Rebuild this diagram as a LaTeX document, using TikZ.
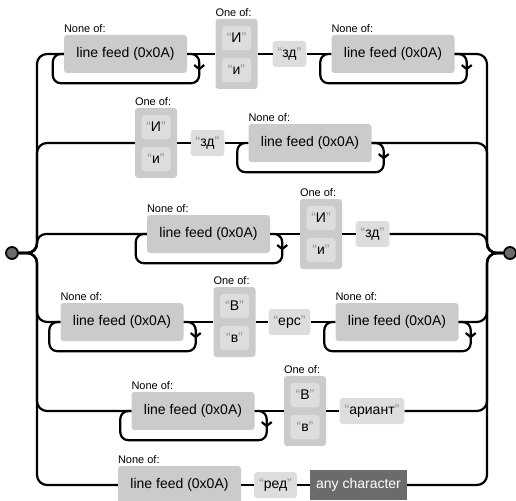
\documentclass[tikz,border=0pt]{standalone}
\usepackage{fontspec}
\setmainfont{Liberation Sans}
\usetikzlibrary{arrows.meta,decorations.markings}
\definecolor{charsetgray}{RGB}{203,203,203}
\definecolor{literalgray}{RGB}{221,221,221}
\definecolor{anchorgray}{RGB}{107,107,107}
\definecolor{quotegray}{RGB}{150,146,140}

% quoted literal text
\newcommand{\lit}[1]{\textcolor{quotegray}{“}#1\textcolor{quotegray}{”}}

% repeat loop running under a box, arrow going down on the right
\newcommand{\loopunder}[1]{%
    \draw[rail,rounded corners=8,postaction={decorate},
        decoration={markings,mark=at position 25pt with {\arrow{Straight Barb[length=4pt,width=10pt]}}}]
        (#1.east) -- ++(12,0) |- ([xshift=-11pt,yshift=-10pt]#1.south west) |- (#1.west);}

\begin{document}
\begin{tikzpicture}[x=1pt,y=-1pt,
        rail/.style={draw=black,line width=2.2pt,rounded corners=10},
        nonebox/.style={rectangle,fill=charsetgray,rounded corners=3,minimum width=123,minimum height=38,inner sep=0pt,font=\fontsize{14}{16}\selectfont},
        onebox/.style={rectangle,fill=charsetgray,rounded corners=3,minimum width=42,minimum height=70,inner sep=0pt},
        litbox/.style={rectangle,fill=literalgray,rounded corners=3,minimum height=26,inner xsep=5pt,inner ysep=0pt,font=\fontsize{14}{16}\selectfont},
        innerbox/.style={litbox,minimum width=29,minimum height=24,inner xsep=1pt},
        anybox/.style={rectangle,fill=anchorgray,text=white,minimum height=30,inner xsep=6pt,inner ysep=0pt,font=\fontsize{14}{16}\selectfont},
        caption/.style={anchor=south west,inner sep=0pt,yshift=2pt,font=\fontsize{11}{12}\selectfont},
        terminal/.style={circle,draw=black,line width=1.8pt,fill=anchorgray,minimum size=12,inner sep=0pt}]
    \useasboundingbox (0,0) rectangle (516,500);

    \node[terminal] (start) at (12,253) {};
    \node[terminal] (finish) at (510,253) {};
    \coordinate (lbus) at (37,253);
    \coordinate (rbus) at (487,253);

    % first alternative
    \node[nonebox] (r1a) at (125.5,54) {line feed (0x0A)};
    \node[caption] (r1acap) at (r1a.north west) {None of:};
    \node[onebox] (r1b) at (236.5,54) {};
    \node[caption] (r1bcap) at (r1b.north west) {One of:};
    \node[innerbox] (r1b1) at (236.5,38) {\lit{И}};
    \node[innerbox] (r1b2) at (236.5,70) {\lit{и}};
    \node[litbox] (r1c) at (289.5,54) {\lit{зд}};
    \node[nonebox] (r1d) at (393,54) {line feed (0x0A)};
    \node[caption] (r1dcap) at (r1d.north west) {None of:};

    % second alternative
    \node[onebox] (r2a) at (156,143) {};
    \node[caption] (r2acap) at (r2a.north west) {One of:};
    \node[innerbox] (r2a1) at (156,127) {\lit{И}};
    \node[innerbox] (r2a2) at (156,159) {\lit{и}};
    \node[litbox] (r2b) at (207.5,143) {\lit{зд}};
    \node[nonebox] (r2c) at (310,143) {line feed (0x0A)};
    \node[caption] (r2ccap) at (r2c.north west) {None of:};

    % third alternative
    \node[nonebox] (r3a) at (208.5,234) {line feed (0x0A)};
    \node[caption] (r3acap) at (r3a.north west) {None of:};
    \node[onebox] (r3b) at (321,234) {};
    \node[caption] (r3bcap) at (r3b.north west) {One of:};
    \node[innerbox] (r3b1) at (321,218) {\lit{И}};
    \node[innerbox] (r3b2) at (321,250) {\lit{и}};
    \node[litbox] (r3c) at (372.5,234) {\lit{зд}};

    % fourth alternative
    \node[nonebox] (r4a) at (122,322) {line feed (0x0A)};
    \node[caption] (r4acap) at (r4a.north west) {None of:};
    \node[onebox] (r4b) at (234.5,322) {};
    \node[caption] (r4bcap) at (r4b.north west) {One of:};
    \node[innerbox] (r4b1) at (234.5,306) {\lit{В}};
    \node[innerbox] (r4b2) at (234.5,338) {\lit{в}};
    \node[litbox] (r4c) at (289.5,322) {\lit{ерс}};
    \node[nonebox] (r4d) at (397,322) {line feed (0x0A)};
    \node[caption] (r4dcap) at (r4d.north west) {None of:};

    % fifth alternative
    \node[nonebox] (r5a) at (193,411) {line feed (0x0A)};
    \node[caption] (r5acap) at (r5a.north west) {None of:};
    \node[onebox] (r5b) at (305,411) {};
    \node[caption] (r5bcap) at (r5b.north west) {One of:};
    \node[innerbox] (r5b1) at (305,395) {\lit{В}};
    \node[innerbox] (r5b2) at (305,427) {\lit{в}};
    \node[litbox] (r5c) at (372,411) {\lit{ариант}};

    % sixth alternative
    \node[nonebox] (r6a) at (179.5,485) {line feed (0x0A)};
    \node[caption] (r6acap) at (r6a.north west) {None of:};
    \node[litbox] (r6b) at (275.5,485) {\lit{ред}};
    \node[anybox] (r6c) at (358.5,485) {any character};

    % rails
    \draw[rail] (start.east) -| (lbus |- r1a.west) -- (r1a.west);
    \draw[rail] (r1a.east) -- (r1b.west) (r1b.east) -- (r1c.west) (r1c.east) -- (r1d.west);
    \draw[rail] (r1d.east) -| (rbus |- finish.west) -- (finish.west);

    \draw[rail] (start.east) -| (lbus |- r2a.west) -- (r2a.west);
    \draw[rail] (r2a.east) -- (r2b.west) (r2b.east) -- (r2c.west);
    \draw[rail] (r2c.east) -| (rbus |- finish.west) -- (finish.west);

    \draw[rail,rounded corners=9] (start.east) -| (lbus |- r3a.west) -- (r3a.west);
    \draw[rail] (r3a.east) -- (r3b.west) (r3b.east) -- (r3c.west);
    \draw[rail,rounded corners=9] (r3c.east) -| (rbus |- finish.west) -- (finish.west);

    \draw[rail] (start.east) -| (lbus |- r4a.west) -- (r4a.west);
    \draw[rail] (r4a.east) -- (r4b.west) (r4b.east) -- (r4c.west) (r4c.east) -- (r4d.west);
    \draw[rail] (r4d.east) -| (rbus |- finish.west) -- (finish.west);

    \draw[rail] (start.east) -| (lbus |- r5a.west) -- (r5a.west);
    \draw[rail] (r5a.east) -- (r5b.west) (r5b.east) -- (r5c.west);
    \draw[rail] (r5c.east) -| (rbus |- finish.west) -- (finish.west);

    \draw[rail] (start.east) -| (lbus |- r6a.west) -- (r6a.west);
    \draw[rail] (r6a.east) -- (r6b.west) (r6b.east) -- (r6c.west);
    \draw[rail] (r6c.east) -| (rbus |- finish.west) -- (finish.west);

    % repeat loops
    \loopunder{r1a}
    \loopunder{r1d}
    \loopunder{r2c}
    \loopunder{r3a}
    \loopunder{r4a}
    \loopunder{r4d}
    \loopunder{r5a}
\end{tikzpicture}
\end{document}
